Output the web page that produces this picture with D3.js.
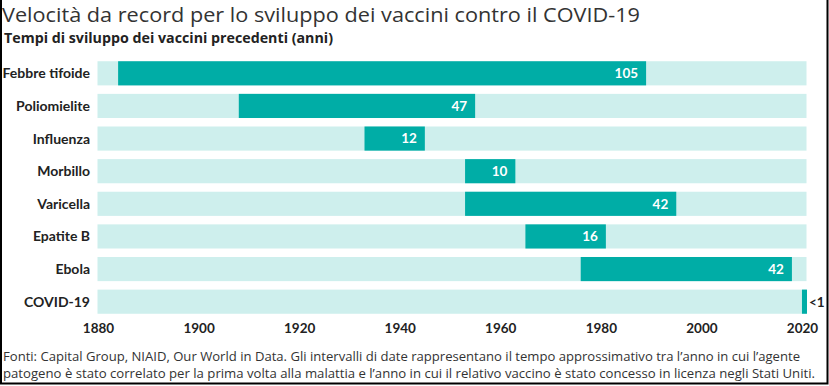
<!DOCTYPE html>
<html><head><meta charset="utf-8">
<script src="https://cdn.jsdelivr.net/npm/d3@7"></script>
<style>
html,body{margin:0;padding:0;background:#fff;}
svg{display:block;}
</style></head>
<body>
<svg id="chart" width="829" height="386"></svg>
<script>
const categories = ["Febbre tifoide","Poliomielite","Influenza","Morbillo","Varicella","Epatite B","Ebola","COVID-19"];
const startYears = [1884,1908,1933,1953,1953,1965,1976,2020];
const endYears   = [1989,1955,1945,1963,1995,1981,2018,2021];
const valueLabels = ["105","47","12","10","42","16","42","<1"];
const tickYears = [1880,1900,1920,1940,1960,1980,2000,2020];
const title = "Velocità da record per lo sviluppo dei vaccini contro il COVID-19";
const subtitle = "Tempi di sviluppo dei vaccini precedenti (anni)";
const footnote = ["Fonti: Capital Group, NIAID, Our World in Data. Gli intervalli di date rappresentano il tempo approssimativo tra l’anno in cui l’agente",
"patogeno è stato correlato per la prima volta alla malattia e l’anno in cui il relativo vaccino è stato concesso in licenza negli Stati Uniti."];

const svg = d3.select("#chart");
const W = 829, H = 386;
const teal = "#00ada6", light = "#ceefed";
const font = "'Open Sans','Noto Sans',sans-serif";
const font2 = "Lato,'Open Sans',sans-serif";

// frame (left, right, bottom)
svg.append("path").attr("d",`M1,0 V383.5 H827.5 V0`).attr("fill","none").attr("stroke","#000").attr("stroke-width",2);

function fit(el, target){
  const len = el.node().getComputedTextLength();
  if (Math.abs(len-target) > 3) el.attr("textLength",target).attr("lengthAdjust","spacingAndGlyphs");
}

const t1 = svg.append("text").attr("x",2).attr("y",21.5).text(title)
  .attr("font-family",font).attr("font-size",20.5).attr("fill","#333");
fit(t1, 638);
const t2 = svg.append("text").attr("x",4).attr("y",42.5).text(subtitle)
  .attr("font-family",font).attr("font-size",13.8).attr("font-weight","bold").attr("fill","#222");
fit(t2, 329);

const x = d3.scaleLinear().domain([1880,2021]).range([98,807]);
const y = d3.scaleBand().domain(categories).range([57,318]).paddingInner(0.26).paddingOuter(0.13);

const rows = svg.append("g").selectAll("g").data(categories).join("g");
rows.append("rect").attr("x",x(1880)-0.5).attr("width",x(2021)-x(1880))
  .attr("y",d=>y(d)).attr("height",y.bandwidth()).attr("fill",light);
rows.append("rect").attr("x",(d,i)=>x(startYears[i])).attr("width",(d,i)=>x(endYears[i])-x(startYears[i]))
  .attr("y",d=>y(d)).attr("height",y.bandwidth()).attr("fill",teal);
rows.append("text").attr("x",90).attr("y",d=>y(d)+y.bandwidth()/2).attr("dy","0.36em")
  .attr("text-anchor","end").attr("font-family",font2).attr("font-size",14).attr("font-weight","bold")
  .attr("fill","#222").text(d=>d);
rows.append("text")
  .attr("x",(d,i)=> i===categories.length-1 ? x(endYears[i])+2 : x(endYears[i])-8)
  .attr("y",d=>y(d)+y.bandwidth()/2).attr("dy","0.36em")
  .attr("text-anchor",(d,i)=> i===categories.length-1 ? "start" : "end")
  .attr("font-family",font2).attr("font-size",13.5).attr("font-weight","bold")
  .attr("fill",(d,i)=> i===categories.length-1 ? "#222" : "#fff")
  .text((d,i)=>valueLabels[i]);

const axis = d3.axisBottom(x).tickValues(tickYears).tickFormat(d3.format("d")).tickSize(0).tickPadding(0);
const ag = svg.append("g").attr("transform","translate(0,322)").call(axis);
ag.select(".domain").remove();
ag.selectAll("text").attr("font-family",font2).attr("font-size",13.5).attr("font-weight","bold").attr("fill","#222").attr("dy","0.85em");

const fn = svg.append("g");
footnote.forEach((t,i)=>{
  const el = fn.append("text").attr("x",3).attr("y",361+i*16.5).text(t)
    .attr("font-family","'Liberation Sans Narrow','Open Sans',sans-serif").attr("font-size",13).attr("fill","#333");
  fit(el, i===0 ? 797 : 812);
});
</script>
</body></html>
